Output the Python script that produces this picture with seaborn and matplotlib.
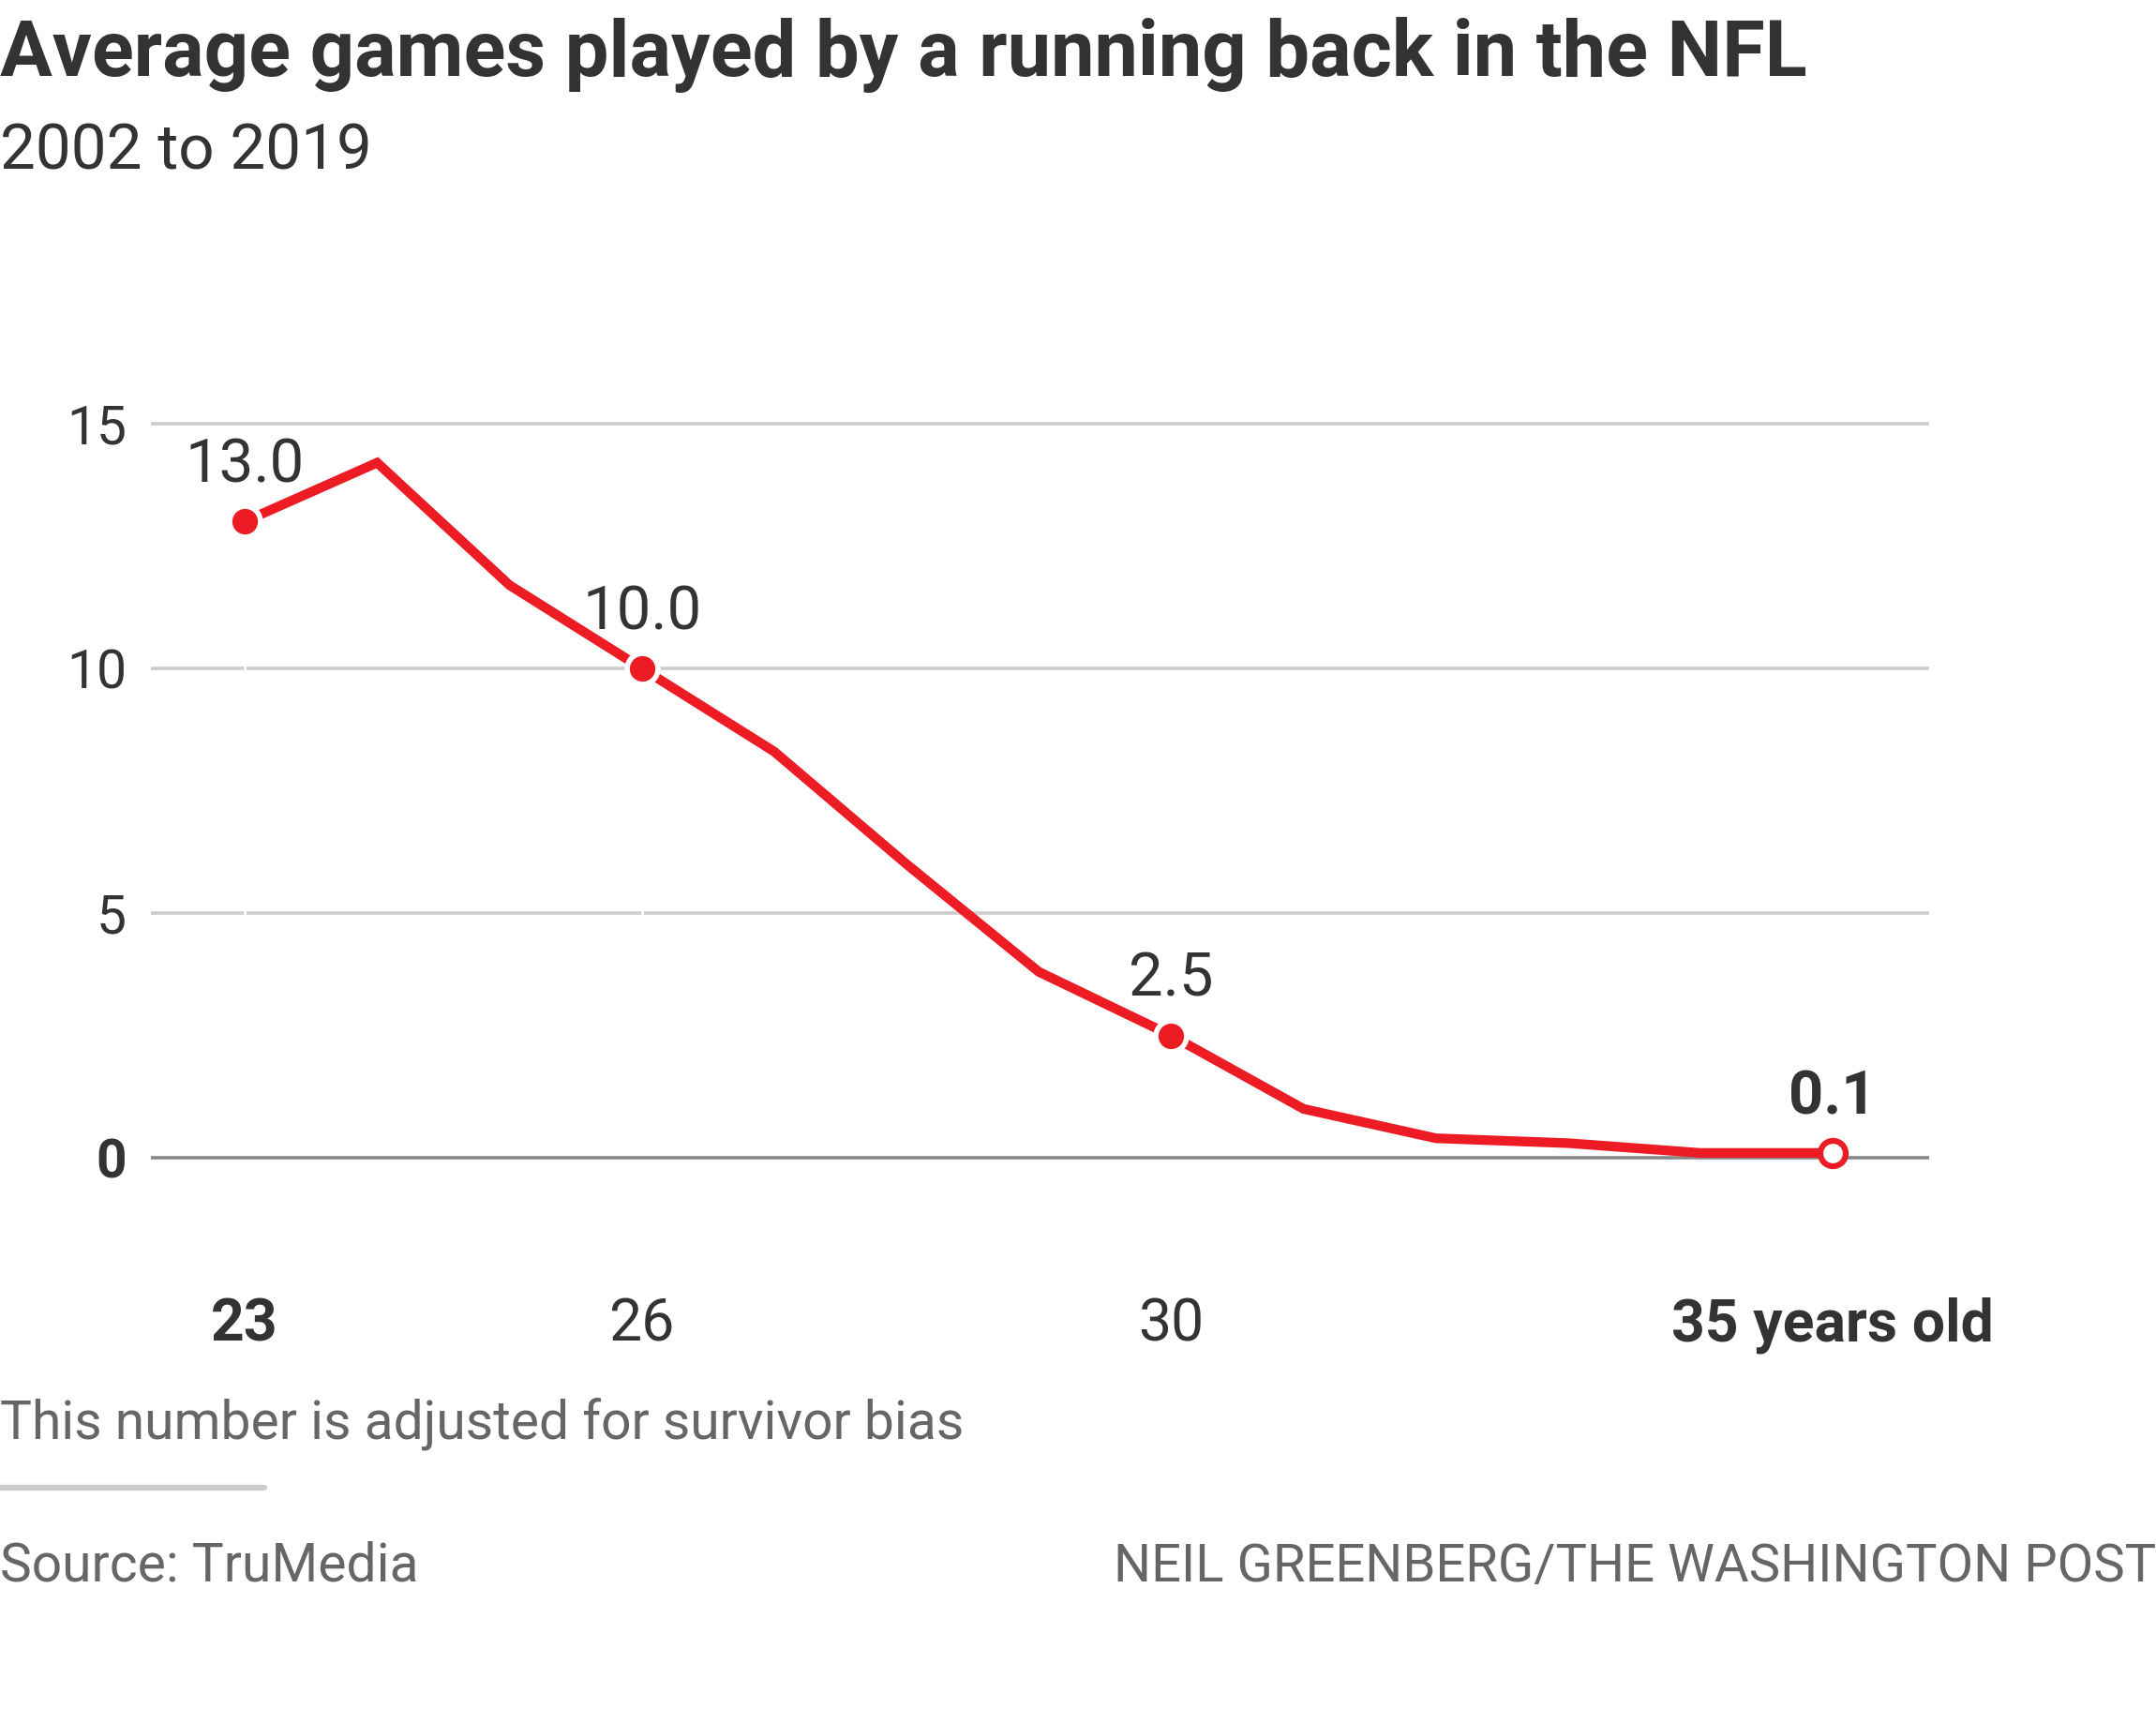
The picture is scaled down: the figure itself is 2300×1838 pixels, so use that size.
import numpy as np
import pandas as pd
import matplotlib
matplotlib.use('Agg')
import matplotlib.pyplot as plt
import seaborn as sns

# data
ages = [23, 24, 25, 26, 27, 28, 29, 30, 31, 32, 33, 34, 35]
games = [13.0, 14.2, 11.7, 10.0, 8.3, 6.0, 3.8, 2.5, 1.0, 0.4, 0.3, 0.1, 0.1]
label_ages = [23, 26, 30, 35]
xtick_labels = ['23', '26', '30', '35 years old']
ytick_vals = [0, 5, 10, 15]

title = 'Average games played by a running back in the NFL'
subtitle = '2002 to 2019'
note = 'This number is adjusted for survivor bias'
source = 'Source: TruMedia'
credit = 'NEIL GREENBERG/THE WASHINGTON POST'

RED = '#ED1C24'
DARK = '#333333'
GRAY = '#666666'

sns.set_theme(style='white')
plt.rcParams['font.family'] = ['Roboto', 'DejaVu Sans']

d = pd.DataFrame({'age': ages, 'games': games})
d_lab = d[d['age'].isin(label_ages)].reset_index(drop=True)

W, H = 1568, 1253  # reference layout units
fig = plt.figure(figsize=(23, 18.38), dpi=100)
ax = fig.add_axes([110 / W, 1 - 880 / H, (1403 - 110) / W, (880 - 280) / H])

# y range so that 0 and 15 land on the same rows as the reference
ax.set_xlim(23 - 68 / 96.25, 23 + 1225 / 96.25)
ax.set_ylim(-38 / 35.6, 562 / 35.6)

for v in ytick_vals[1:]:
    ax.axhline(v, color='#cccccc', lw=2.6, zorder=1)
# thin white drops under the labelled points
ax.vlines(d_lab['age'][:-1], 0, d_lab['games'][:-1], color='white', lw=2, zorder=2)
ax.axhline(0, color='#888888', lw=2.6, zorder=3)

sns.lineplot(data=d, x='age', y='games', color=RED, lw=7.4, ax=ax, zorder=4,
             solid_joinstyle='miter')
ax.scatter(d_lab['age'][:-1], d_lab['games'][:-1], s=560, color=RED,
           edgecolor='white', linewidth=4, zorder=5)
ax.scatter(d_lab['age'][-1:], d_lab['games'][-1:], s=380, color='white',
           edgecolor=RED, linewidth=4.5, zorder=5)

for i, r in d_lab.iterrows():
    last = i == len(d_lab) - 1
    ax.annotate(f"{r['games']:.1f}", (r['age'], r['games']), xytext=(0, 30),
                textcoords='offset points', ha='center', va='baseline',
                fontsize=47, color=DARK, fontweight='bold' if last else 'normal',
                zorder=6)

ax.set_xticks(label_ages)
ax.set_xticklabels(xtick_labels)
ax.set_yticks(ytick_vals)
ax.set_yticklabels([str(v) for v in ytick_vals])
ax.tick_params(axis='x', length=0, pad=67, labelsize=45, labelcolor=DARK)
ax.tick_params(axis='y', length=0, pad=19, labelsize=41, labelcolor=DARK)
for t in [ax.get_xticklabels()[0], ax.get_xticklabels()[-1], ax.get_yticklabels()[0]]:
    t.set_fontweight('bold')
ax.set_xlabel('')
ax.set_ylabel('')
sns.despine(ax=ax, left=True, bottom=True)

fig.text(0, 1 - 55 / H, title, fontsize=59.8, fontweight='bold', color=DARK, va='baseline')
fig.text(0, 1 - 123 / H, subtitle, fontsize=48.5, color=DARK, va='baseline')
fig.text(0, 1 - 1046 / H, note, fontsize=41, color=GRAY, va='baseline')
fig.add_artist(plt.Line2D([0, 192 / W], [1 - 1082 / H] * 2, color='#cccccc', lw=4.5))
fig.text(0, 1 - 1150 / H, source, fontsize=41, color=GRAY, va='baseline')
fig.text(1, 1 - 1150 / H, credit, fontsize=40.5, color=GRAY, va='baseline', ha='right')

fig.savefig('out.png', dpi=100, facecolor='white')
